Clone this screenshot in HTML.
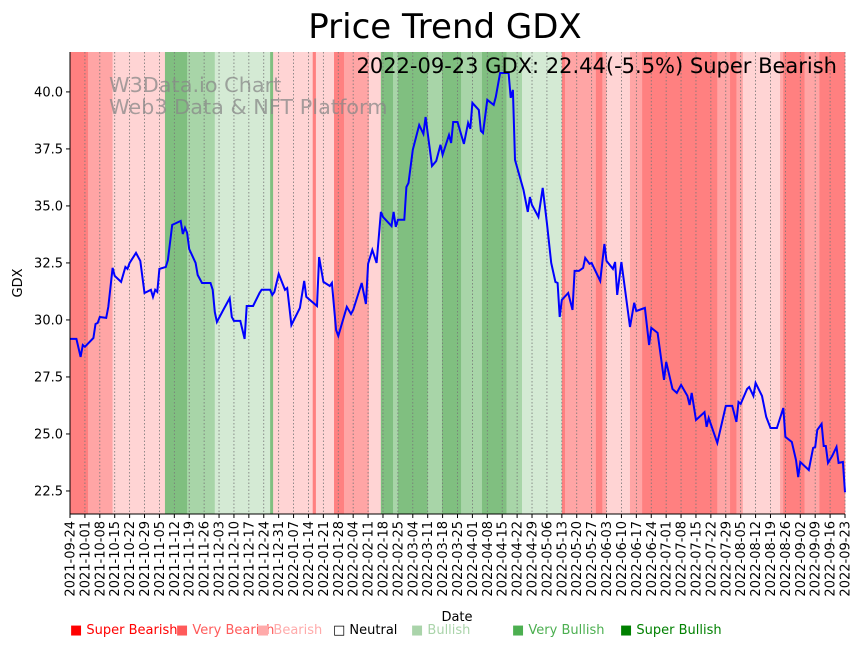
<!DOCTYPE html>
<html><head><meta charset="utf-8">
<style>
body{margin:0;background:#fff;}
svg{display:block;font-family:"DejaVu Sans","Liberation Sans",sans-serif;}
</style></head>
<body>
<svg id="chart" width="861" height="646" viewBox="0 0 861 646" xmlns="http://www.w3.org/2000/svg">
<text x="445" y="38" font-size="34" text-anchor="middle">Price Trend GDX</text>
<g id="bands"></g>
<g id="grid"></g>
<text x="109" y="92" font-size="20.8" fill="#888" fill-opacity="0.75">W3Data.io Chart</text>
<text x="109" y="114" font-size="20.8" fill="#888" fill-opacity="0.75">Web3 Data &amp; NFT Platform</text>
<path id="line" fill="none" stroke="#0000ff" stroke-width="2"/>
<text x="837" y="73" font-size="21" text-anchor="end">2022-09-23 GDX: 22.44(-5.5%) Super Bearish</text>
<line x1="70" y1="52" x2="70" y2="514" stroke="#000" stroke-width="1"/>
<line x1="70" y1="514" x2="845" y2="514" stroke="#000" stroke-width="1"/>
<g id="yticks"></g>
<g id="xticks"></g>
<text transform="translate(22,283) rotate(-90)" font-size="13" text-anchor="middle">GDX</text>
<text x="457" y="621" font-size="13" text-anchor="middle">Date</text>
<g id="legend"></g>
</svg>
<script>
const dayOffsets=[0,3,5,6,7,11,12,13,14,17,18,20,21,24,26,27,28,31,33,35,38,39,40,41,42,45,46,48,52,53,54,55,56,59,60,62,66,67,68,69,72,75,76,77,80,82,83,86,89,90,94,95,96,98,101,102,104,108,110,111,116,117,119,122,123,125,126,130,132,133,137,139,140,142,144,146,147,151,152,153,154,157,158,159,161,164,166,167,170,172,174,175,178,179,180,182,185,187,188,189,192,193,194,196,199,200,202,206,207,208,209,213,215,216,217,220,222,224,226,228,229,230,231,234,236,237,239,241,242,244,245,249,251,252,255,256,257,259,263,265,266,270,272,273,276,279,280,283,285,287,290,291,292,294,298,299,300,304,308,311,313,314,315,318,319,321,322,325,327,329,332,335,336,339,341,342,343,347,349,350,351,353,354,355,356,358,360,361,363,364];
const prices=[29.17,29.17,28.38,28.90,28.82,29.21,29.82,29.87,30.13,30.09,30.57,32.28,31.93,31.67,32.32,32.24,32.50,32.94,32.59,31.18,31.32,31.01,31.32,31.23,32.24,32.32,32.63,34.17,34.34,33.77,34.04,33.82,33.11,32.50,31.97,31.62,31.62,31.32,30.35,29.91,30.44,30.96,30.13,29.96,29.96,29.17,30.61,30.61,31.18,31.32,31.32,31.10,31.23,32.02,31.32,31.40,29.78,30.53,31.71,31.01,30.61,32.76,31.67,31.49,31.62,29.56,29.30,30.57,30.26,30.44,31.62,30.70,32.46,33.07,32.50,34.74,34.52,34.12,34.74,34.08,34.39,34.39,35.83,36.01,37.46,38.55,38.16,38.90,36.75,36.97,37.68,37.24,38.11,37.76,38.68,38.68,37.72,38.64,38.38,39.52,39.21,38.29,38.20,39.65,39.43,39.78,40.83,40.83,39.74,40.09,37.02,35.70,34.74,35.39,35.04,34.52,35.79,34.25,32.50,31.67,31.62,30.13,30.88,31.18,30.44,32.15,32.15,32.28,32.72,32.46,32.50,31.71,33.33,32.59,32.24,32.54,31.10,32.54,29.69,30.75,30.39,30.53,28.90,29.65,29.43,27.37,28.16,26.97,26.80,27.15,26.67,26.27,26.80,25.61,25.96,25.31,25.70,24.61,26.23,26.23,25.53,26.40,26.32,26.97,27.06,26.67,27.24,26.67,25.75,25.26,25.26,26.14,24.87,24.65,23.86,23.11,23.77,23.42,24.39,24.43,25.18,25.44,24.47,24.47,23.73,24.04,24.43,23.73,23.77,22.44];
const bandStarts=[0,8.5,20,44.6,55,68,94,95.4,114,115.5,124,128.7,140.4,146,151.7,154,168,174.7,183.7,193.5,205,212.3,231,232.5,247,250,252,263,268.7,304,310,313,316,333.5,335,345,352];
const bandEnds=[8.5,20,44.6,55,68,94,95.4,114,115.5,124,128.7,140.4,146,151.7,154,168,174.7,183.7,193.5,205,212.3,231,232.5,247,250,252,263,268.7,304,310,313,316,333.5,335,345,352,364];
const bandLevels=[-3,-2,-1,3,2,1,3,-1,-3,-1,-3,-2,-1,3,2,3,2,3,2,3,2,1,-3,-2,-3,-2,-1,-2,-3,-2,-3,-2,-1,-2,-3,-2,-3];
const yTicks=[22.5,25.0,27.5,30.0,32.5,35.0,37.5,40.0];
const legendLabels=["Super Bearish","Very Bearish","Bearish","Neutral","Bullish","Very Bullish","Super Bullish"];
const legendColors=["#ff0000","#ff5a5a","#ffaaaa","#000000","#aad4aa","#4caf50","#008000"];

const X0=70,X1=845,Y0=52,Y1=514,DMAX=364,PMIN=21.49,PMAX=41.75;
const xs=d=>X0+d*(X1-X0)/DMAX;
const ys=p=>Y1-(p-PMIN)*(Y1-Y0)/(PMAX-PMIN);
const NS="http://www.w3.org/2000/svg";
const levelColor={"-3":"#ff8080","-2":"#ffa5a5","-1":"#ffd4d4","1":"#d4ead4","2":"#a8d5a8","3":"#80bf80"};
function mk(tag,attrs,parent){const e=document.createElementNS(NS,tag);for(const k in attrs)e.setAttribute(k,attrs[k]);parent.appendChild(e);return e;}

const bandsG=document.getElementById('bands');
bandStarts.forEach((s,i)=>{
  const r=mk('rect',{x:xs(s),y:Y0,width:xs(bandEnds[i])-xs(s)+0.3,height:Y1-Y0,fill:levelColor[bandLevels[i]]},bandsG);
  
  
});

const grid=document.getElementById('grid'),xt=document.getElementById('xticks');
const start=new Date(Date.UTC(2021,8,24));
for(let k=0;k<=52;k++){
  const d=k*7,x=xs(d);
  const gl=mk('line',{x1:x,y1:Y0,x2:x,y2:Y1,stroke:'#777','stroke-width':0.8,'stroke-dasharray':'1.5,2'},grid);
  
  
  const t=mk('line',{x1:x,y1:Y1,x2:x,y2:Y1+4,stroke:'#000'},xt);
  
  
  const dt=new Date(start.getTime()+d*86400000);
  const lbl=dt.toISOString().slice(0,10);
  const tx=mk('text',{transform:`translate(${x+4.5},${Y1+7}) rotate(-90)`,'font-size':13,'text-anchor':'end'},xt);
  tx.textContent=lbl;
  
  
}

const yt=document.getElementById('yticks');
yTicks.forEach(v=>{
  const y=ys(v);
  const t=mk('line',{x1:X0-4,y1:y,x2:X0,y2:y,stroke:'#000'},yt);
  
  
  const tx=mk('text',{x:X0-7,y:y+4.5,'font-size':13,'text-anchor':'end'},yt);
  tx.textContent=v.toFixed(1);
  
  
});

document.getElementById('line').setAttribute('d',dayOffsets.map((d,i)=>(i?'L':'M')+xs(d).toFixed(1)+','+ys(prices[i]).toFixed(1)).join(' '));

const lg=document.getElementById('legend');
const legX=[70,176,257,333,411,512,620];
legendLabels.forEach((l,i)=>{
  const t=mk('text',{x:legX[i],y:634,'font-size':13,fill:legendColors[i]},lg);
  t.textContent=(i===3?'□ ':'■ ')+l;
  
  
});
</script>
</body></html>
